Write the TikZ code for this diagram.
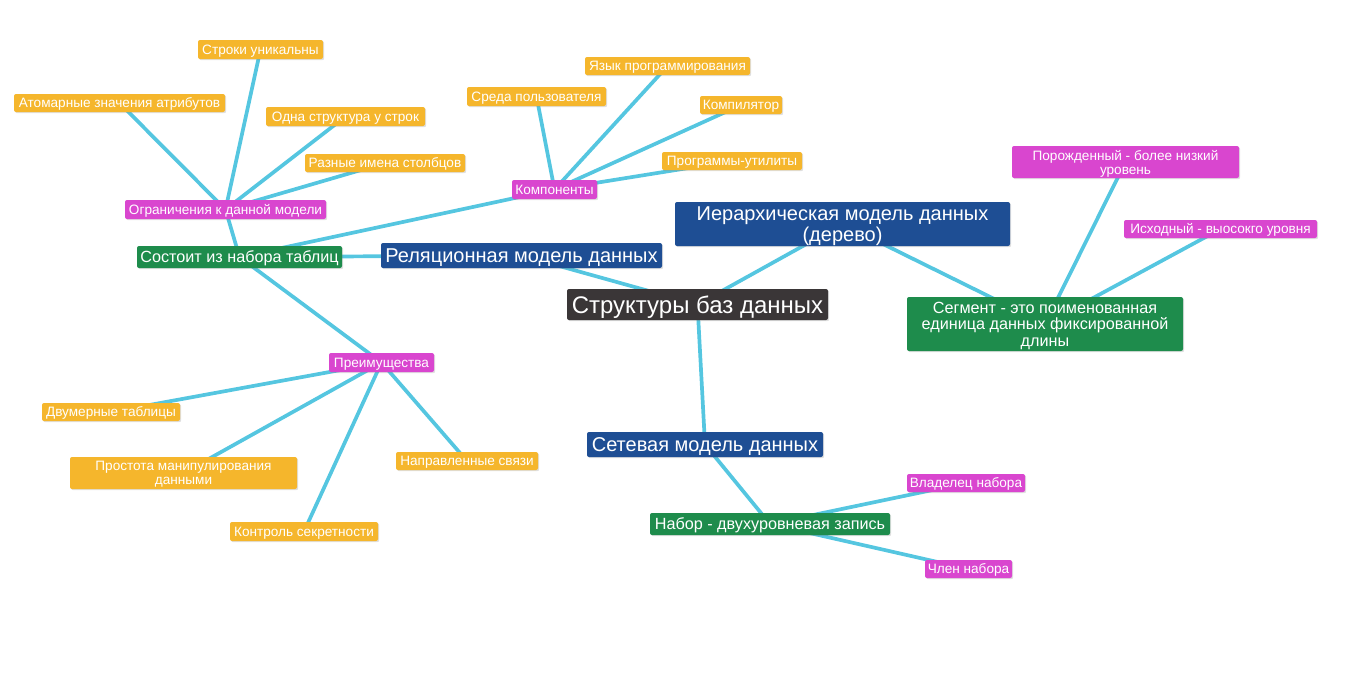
\documentclass[tikz,border=0pt]{standalone}
\usepackage{fontspec}
\setmainfont{Liberation Sans}
\usetikzlibrary{backgrounds,shadows}
\definecolor{cRoot}{HTML}{3A3637}
\definecolor{cBlue}{HTML}{1E4E94}
\definecolor{cGreen}{HTML}{1E8C4C}
\definecolor{cMag}{HTML}{D946CF}
\definecolor{cOrg}{HTML}{F5B62C}
\definecolor{cLine}{HTML}{55C6E0}
\begin{document}
\begin{tikzpicture}[x=1pt,y=-1pt,
  mm/.style={rounded corners=2pt, text=white, inner sep=0pt, align=center, text depth=0pt,
    drop shadow={opacity=0.25,shadow xshift=1.2pt,shadow yshift=-1.2pt}},
  wh/.style 2 args={minimum width=#1pt, minimum height=#2pt},
  rootbox/.style={mm, fill=cRoot, font=\fontsize{24}{26}\selectfont, text height=17.3pt},
  bluebox/.style={mm, fill=cBlue, font=\fontsize{20}{21}\selectfont, text height=14.4pt},
  blue2/.style={mm, fill=cBlue, font=\fontsize{20}{21}\selectfont},
  greenbox/.style={mm, fill=cGreen, font=\fontsize{16.2}{16.5}\selectfont, text height=11.7pt},
  green2/.style={mm, fill=cGreen, font=\fontsize{16.2}{16.5}\selectfont},
  magbox/.style={mm, fill=cMag, font=\fontsize{13.6}{14}\selectfont, text height=9.8pt},
  mag2/.style={mm, fill=cMag, font=\fontsize{13.6}{14}\selectfont},
  orgbox/.style={mm, fill=cOrg, font=\fontsize{13.6}{14}\selectfont, text height=9.8pt},
  org2/.style={mm, fill=cOrg, font=\fontsize{13.6}{14}\selectfont},
  link/.style={draw=cLine, line width=3.7pt}]
\useasboundingbox (0,0) rectangle (1364,678);

\node[rootbox, wh={261}{31}] (root) at (697.5,304.5) {Структуры баз данных};
\node[bluebox, wh={281}{25}] (rel) at (521.5,255.5) {Реляционная модель данных};
\node[blue2, wh={335}{44}] (hier) at (842.5,224) {Иерархическая модель данных\\(дерево)};
\node[bluebox, wh={236}{25}] (net) at (705,444.5) {Сетевая модель данных};

\node[greenbox, wh={205}{22}] (sost) at (239.5,257) {Состоит из набора таблиц};
\node[green2, wh={276}{54}] (seg) at (1045,324) {Сегмент - это поименованная\\единица данных фиксированной\\длины};
\node[greenbox, wh={240}{22}] (nabor) at (770,524) {Набор - двухуровневая запись};

\node[magbox, wh={201}{19}] (ogr) at (225.5,209.5) {Ограничения к данной модели};
\node[magbox, wh={85}{19}] (komp) at (554.5,189.5) {Компоненты};
\node[magbox, wh={105}{19}] (preim) at (381.5,362.5) {Преимущества};
\node[mag2, wh={227}{32}] (porozh) at (1125.5,162) {Порожденный - более низкий\\уровень};
\node[magbox, wh={193}{18}] (ishod) at (1220.5,229) {Исходный - выосокго уровня};
\node[magbox, wh={118}{18}] (vlad) at (966,483) {Владелец набора};
\node[magbox, wh={87}{18}] (chlen) at (968.5,569) {Член набора};

\node[orgbox, wh={125}{19}] (stroki) at (260.5,49.5) {Строки уникальны};
\node[orgbox, wh={211}{18}] (atom) at (119.5,103) {Атомарные значения атрибутов};
\node[orgbox, wh={159}{19}] (odna) at (345.5,116.5) {Одна структура у строк};
\node[orgbox, wh={160}{18}] (razn) at (385,163) {Разные имена столбцов};
\node[orgbox, wh={165}{18}] (yazyk) at (667.5,66) {Язык программирования};
\node[orgbox, wh={139}{19}] (sreda) at (536.5,96.5) {Среда пользователя};
\node[orgbox, wh={82}{18}] (kompil) at (741,105) {Компилятор};
\node[orgbox, wh={140}{18}] (progr) at (732,161) {Программы-утилиты};
\node[orgbox, wh={138}{18}] (dvum) at (111,412) {Двумерные таблицы};
\node[org2, wh={227}{32}] (prost) at (183.5,473) {Простота манипулирования\\данными};
\node[orgbox, wh={142}{18}] (napr) at (467,461) {Направленные связи};
\node[orgbox, wh={148}{19}] (kontr) at (304,531.5) {Контроль секретности};

\begin{pgfonlayer}{background}
\draw[link] (root.center) -- (rel.center);
\draw[link] (root.center) -- (hier.center);
\draw[link] (root.center) -- (net.center);
\draw[link] (rel.center) -- (sost.center);
\draw[link] (sost.center) -- (ogr.center);
\draw[link] (sost.center) -- (komp.center);
\draw[link] (sost.center) -- (preim.center);
\draw[link] (ogr.center) -- (stroki.center);
\draw[link] (ogr.center) -- (atom.center);
\draw[link] (ogr.center) -- (odna.center);
\draw[link] (ogr.center) -- (razn.center);
\draw[link] (komp.center) -- (sreda.center);
\draw[link] (komp.center) -- (yazyk.center);
\draw[link] (komp.center) -- (kompil.center);
\draw[link] (komp.center) -- (progr.center);
\draw[link] (preim.center) -- (dvum.center);
\draw[link] (preim.center) -- (prost.center);
\draw[link] (preim.center) -- (kontr.center);
\draw[link] (preim.center) -- (napr.center);
\draw[link] (hier.center) -- (seg.center);
\draw[link] (seg.center) -- (porozh.center);
\draw[link] (seg.center) -- (ishod.center);
\draw[link] (net.center) -- (nabor.center);
\draw[link] (nabor.center) -- (vlad.center);
\draw[link] (nabor.center) -- (chlen.center);
\end{pgfonlayer}
\end{tikzpicture}
\end{document}
